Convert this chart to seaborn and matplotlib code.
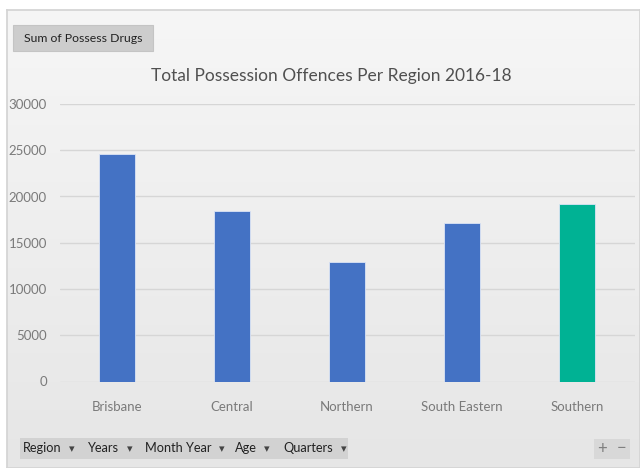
import matplotlib
matplotlib.use("Agg")
import matplotlib.pyplot as plt
from matplotlib.patches import Rectangle
import numpy as np
import seaborn as sns
import pandas as pd

regions = ["Brisbane", "Central", "Northern", "South Eastern", "Southern"]
offences = [24600, 18430, 12920, 17140, 19190]
bar_colors = ["#4472C4", "#4472C4", "#4472C4", "#4472C4", "#00B294"]
y_ticks = [0, 5000, 10000, 15000, 20000, 25000, 30000]
title = "Total Possession Offences Per Region 2016-18"
field_button = "Sum of Possess Drugs"
filter_buttons = ["Region", "Years", "Month Year", "Age", "Quarters"]

sns.set_theme(style="white")
plt.rcParams["font.family"] = ["Lato", "DejaVu Sans"]

df = pd.DataFrame({"Region": regions, "Offences": offences})

W, H = 640, 468
fig = plt.figure(figsize=(6.4, 4.68), dpi=100)
fig.patch.set_facecolor("#ffffff")

# background gradient panel
bg = fig.add_axes([7/W, 0, 1-7/W, 1-10/H], zorder=-5)
grad = np.linspace(0, 1, 256).reshape(-1, 1)
bg.imshow(grad, aspect="auto", cmap=matplotlib.colors.LinearSegmentedColormap.from_list(
    "g", ["#f6f6f6", "#e6e6e6"]), extent=[0, 1, 0, 1])
bg.set_xticks([]); bg.set_yticks([])
for s in bg.spines.values():
    s.set_color("#d4d4d4")

ax = fig.add_axes([59.5/W, 1-381.5/H, 575/W, (381.5-104)/H])
ax.set_facecolor("none")
sns.barplot(data=df, x="Region", y="Offences", hue="Region",
            palette=dict(zip(regions, bar_colors)), width=0.313, legend=False,
            saturation=1, ax=ax, zorder=3, edgecolor="#dbe4f5", linewidth=0.6)
ax.set_ylim(0, 30000)
ax.set_yticks(y_ticks)
ax.set_yticklabels([str(v) for v in y_ticks])
ax.set_xlim(-0.5, 4.5)
ax.grid(axis="y", color="#d6d6d6", lw=1, zorder=0)
for s in ax.spines.values():
    s.set_visible(False)
ax.set_xlabel("")
ax.set_ylabel("")
ax.tick_params(axis="both", length=0, labelsize=9.5, labelcolor="#7a7a7a")
ax.tick_params(axis="x", pad=14)
ax.tick_params(axis="y", pad=9)

fig.text(331/W, 1-76/H, title, ha="center", va="center", fontsize=12.5, color="#505050")

# field button
fig.patches.append(Rectangle((13/W, 1-51/H), 140/W, 26/H, transform=fig.transFigure,
                             facecolor="#cdcdcd", edgecolor="#c4c4c4", lw=0.8))
fig.text(83/W, 1-38/H, field_button, ha="center", va="center", fontsize=8.8, color="#222222")

# filter buttons
y0 = 1-459/H
h = 21/H
fig.patches.append(Rectangle((20/W, y0), (348-20)/W, h, transform=fig.transFigure,
                             facecolor="#d2d2d2", edgecolor="none"))
name_x = [23, 88, 145, 235, 283]
arrow_x = [72, 130, 222, 267, 344]
for name, nx, axx in zip(filter_buttons, name_x, arrow_x):
    fig.text(nx/W, y0+h/2, name, ha="left", va="center", fontsize=9.2, color="#222222")
    fig.text(axx/W, y0+h/2, "\u25be", ha="center", va="center", fontsize=8, color="#444444")
fig.patches.append(Rectangle((594/W, 1-459/H), 36/W, 20/H, transform=fig.transFigure,
                             facecolor="#d8d8d8", edgecolor="none"))
fig.text(602/W, y0+h/2, "+", ha="center", va="center", fontsize=12, color="#808080")
fig.text(622/W, y0+h/2, "\u2212", ha="center", va="center", fontsize=12, color="#808080")

fig.savefig("out.png", dpi=100, facecolor=fig.get_facecolor())
